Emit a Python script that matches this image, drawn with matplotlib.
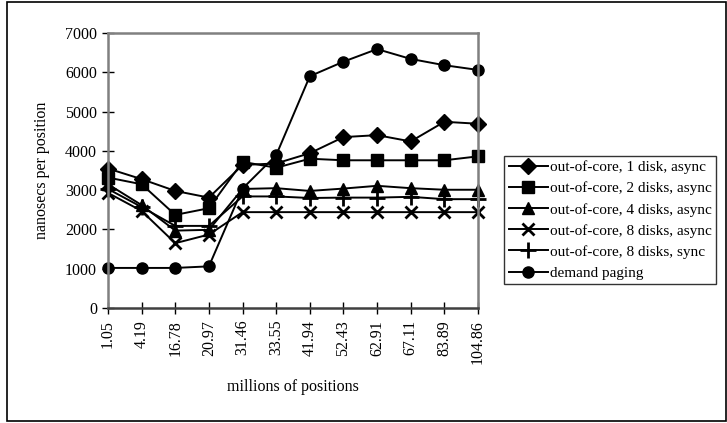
import matplotlib
matplotlib.use("Agg")
import matplotlib.pyplot as plt
from matplotlib.patches import Rectangle

plt.rcParams['font.family'] = ['Liberation Serif', 'DejaVu Serif']

positions = ['1.05', '4.19', '16.78', '20.97', '31.46', '33.55',
             '41.94', '52.43', '62.91', '67.11', '83.89', '104.86']

disk1_async = [3550, 3280, 2980, 2810, 3640, 3680, 3940, 4350, 4400, 4240, 4740, 4690]
disk2_async = [3320, 3150, 2370, 2540, 3720, 3570, 3800, 3760, 3760, 3760, 3760, 3860]
disk4_async = [3150, 2620, 1970, 1990, 3030, 3050, 2980, 3040, 3110, 3050, 3010, 3010]
disk8_async = [2930, 2470, 1650, 1870, 2440, 2440, 2440, 2440, 2440, 2440, 2440, 2440]
disk8_sync = [3030, 2570, 2090, 2090, 2840, 2840, 2800, 2810, 2810, 2830, 2770, 2770]
demand_paging = [1020, 1020, 1020, 1060, 3040, 3890, 5900, 6270, 6590, 6340, 6180, 6060]

series = [
    ('out-of-core, 1 disk, async', disk1_async, 'D', 8),
    ('out-of-core, 2 disks, async', disk2_async, 's', 8),
    ('out-of-core, 4 disks, async', disk4_async, '^', 9),
    ('out-of-core, 8 disks, async', disk8_async, 'x', 8),
    ('out-of-core, 8 disks, sync', disk8_sync, '+', 11),
    ('demand paging', demand_paging, 'o', 8),
]

fig = plt.figure(figsize=(7.27, 4.23), dpi=100)
ax = fig.add_axes([108 / 727, 1 - 308 / 423, 370 / 727, 275 / 423])

x = list(range(len(positions)))
for label, vals, mk, ms in series:
    ax.plot(x, vals, color='black', lw=1.4, marker=mk, markersize=ms,
            markeredgewidth=2 if mk in ('x', '+') else 1,
            label=label, clip_on=False)

ax.set_xlim(0, len(positions) - 1)
ax.set_ylim(0, 7000)
ax.set_yticks(range(0, 7001, 1000))
ax.set_xticks(x)
ax.set_xticklabels(positions, rotation=90)
ax.tick_params(direction='inout', length=9, width=1, labelsize=11.5, color='black')
ax.tick_params(axis='x', pad=4)

for s in ax.spines.values():
    s.set_color('#808080')
    s.set_linewidth(1.8)
ax.spines['bottom'].set_color('#404040')

ax.set_ylabel('nanosecs per position', fontsize=11.5, labelpad=11)
ax.set_xlabel('millions of positions', fontsize=11.5, labelpad=11)

leg = ax.legend(loc='upper left', bbox_to_anchor=(504 / 727, 1 - 156 / 423),
                bbox_transform=fig.transFigure, fontsize=11, frameon=True,
                fancybox=False, edgecolor='black', handlelength=2.6,
                handletextpad=0.1, labelspacing=0.48, borderpad=0.3,
                borderaxespad=0)
leg.get_frame().set_linewidth(1)

# outer chart border
fig.patches.append(Rectangle((7 / 727, 2 / 423), 719 / 727, 419 / 423,
                             transform=fig.transFigure, fill=False,
                             edgecolor='black', lw=1.2))

fig.savefig('out.png', dpi=100)
